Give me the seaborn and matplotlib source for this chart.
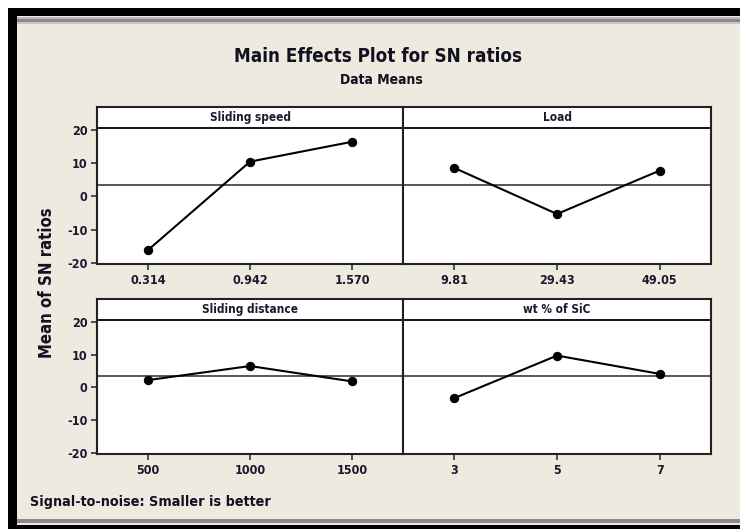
import numpy as np
import pandas as pd
import matplotlib
matplotlib.use("Agg")
import matplotlib.pyplot as plt
from matplotlib.patches import Rectangle
import seaborn as sns

# main effects data
speed_levels = ["0.314", "0.942", "1.570"]
speed_sn = [-16.2, 10.5, 16.5]
load_levels = ["9.81", "29.43", "49.05"]
load_sn = [8.6, -5.3, 7.8]
dist_levels = ["500", "1000", "1500"]
dist_sn = [2.2, 6.5, 1.8]
sic_levels = ["3", "5", "7"]
sic_sn = [-3.3, 9.7, 4.1]

factors = ["Sliding speed", "Load", "Sliding distance", "wt % of SiC"]
levels = [speed_levels, load_levels, dist_levels, sic_levels]
values = [speed_sn, load_sn, dist_sn, sic_sn]
grand_mean = np.mean(np.concatenate(values))

sns.set_style("white")
plt.rcParams["font.family"] = ["DejaVu Sans"]
plt.rcParams["font.stretch"] = "condensed"
plt.rcParams["font.weight"] = "bold"

W, H = 740, 529
fig = plt.figure(figsize=(W / 100, H / 100), dpi=100)
fig.patch.set_facecolor("white")

def px(x0, y0, w, h):
    # pixel box (top-left origin) -> figure fraction
    return (x0 / W, 1 - (y0 + h) / H, w / W, h / H)

def rect(x0, y0, w, h, color):
    fig.patches.append(Rectangle(px(x0, y0, w, h)[:2], w / W, h / H,
                                 transform=fig.transFigure, color=color,
                                 zorder=-10, lw=0))

# background frame
rect(17, 16, 723, 509, "#eeeae0")
rect(8, 8, 732, 8, "black")
rect(8, 8, 9, 521, "black")
rect(8, 525, 732, 4, "black")
rect(17, 17, 723, 2, "#bdbdbd")
rect(17, 19, 723, 3, "#8a8a8a")
rect(17, 22, 723, 2, "#c8c6c0")
rect(17, 519, 723, 4, "#8a8a88")

boxes = [px(97, 107, 306, 157), px(403, 107, 308, 157),
         px(97, 299, 306, 155), px(403, 299, 308, 155)]

ylim = (-20.4, 27.0)
strip_y = 20.7
for i, (name, lev, val) in enumerate(zip(factors, levels, values)):
    ax = fig.add_axes(boxes[i])
    ax.set_facecolor("white")
    df = pd.DataFrame({"pos": np.arange(len(lev)), "sn": val})
    ax.axhline(grand_mean, color="#3a3a3a", lw=1.2, zorder=1)
    ax.axhline(strip_y, color="black", lw=1.3, zorder=1)
    sns.lineplot(data=df, x="pos", y="sn", color="black", lw=1.5,
                 marker="o", markersize=6, markeredgecolor="black",
                 ax=ax, zorder=3)
    ax.text(0.5, (27.0 - 0.5 * (27.0 - strip_y) - ylim[0]) / (ylim[1] - ylim[0]),
            name, transform=ax.transAxes, ha="center", va="center",
            fontsize=8.5, fontweight="bold", color="#1a1a2e")
    ax.set_xlim(-0.5, 2.5)
    ax.set_ylim(*ylim)
    ax.set_xticks(range(len(lev)))
    ax.set_xticklabels(lev)
    ax.set_xlabel("")
    ax.set_ylabel("")
    if i % 2 == 0:
        ax.set_yticks([-20, -10, 0, 10, 20])
        ax.set_yticklabels(["-20", "-10", "0", "10", "20"])
    else:
        ax.set_yticks([])
    ax.tick_params(axis="both", direction="out", length=4, width=1.2,
                   colors="#333333", labelcolor="#1a1a2e", labelsize=9,
                   left=(i % 2 == 0), bottom=True, pad=3)
    for lbl in ax.get_xticklabels() + ax.get_yticklabels():
        lbl.set_fontweight("bold")
    for s in ax.spines.values():
        s.set_visible(True)
        s.set_color("#222222")
        s.set_linewidth(1.5)

fig.text(378 / W, 1 - 57 / H, "Main Effects Plot for SN ratios", ha="center",
         va="center", fontsize=13.5, fontweight="bold", color="#111122")
fig.text(381 / W, 1 - 80 / H, "Data Means", ha="center", va="center",
         fontsize=10, fontweight="bold", color="#111122")
fig.text(47 / W, 1 - 283 / H, "Mean of SN ratios", ha="center", va="center",
         rotation=90, fontsize=12, fontweight="bold", color="#111122")
fig.text(30 / W, 1 - 502 / H, "Signal-to-noise: Smaller is better", ha="left",
         va="center", fontsize=10.3, fontweight="bold", color="#111122")

fig.savefig("out.png", dpi=100)
